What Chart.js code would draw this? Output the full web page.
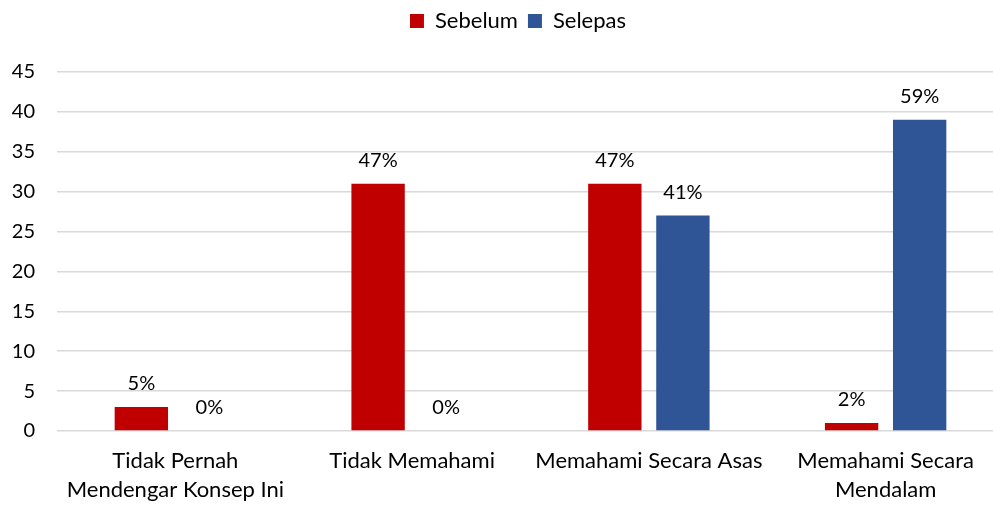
<!DOCTYPE html>
<html>
<head>
<meta charset="utf-8">
<script src="https://cdn.jsdelivr.net/npm/chart.js@4.4.1/dist/chart.umd.min.js"></script>
<style>
  html, body { margin: 0; padding: 0; background: #ffffff; overflow: hidden; }
  #wrap { position: relative; width: 1004px; height: 505px; }
</style>
</head>
<body>
<div id="wrap"><canvas id="c"></canvas></div>
<script>
const categories = [
  ["Tidak Pernah", "Mendengar Konsep Ini"],
  "Tidak Memahami",
  "Memahami Secara Asas",
  ["Memahami Secara", "Mendalam"]
];
const seriesNames = ["Sebelum", "Selepas"];
const sebelumValues = [3, 31, 31, 1];
const selepasValues = [0, 0, 27, 39];
const sebelumLabels = ["5%", "47%", "47%", "2%"];
const selepasLabels = ["0%", "0%", "41%", "59%"];
const yTicks = [0, 5, 10, 15, 20, 25, 30, 35, 40, 45];

const FONT = "Lato, 'Open Sans', sans-serif";
const TEXT = "#000000";

const dataLabelPlugin = {
  id: 'barValueLabels',
  afterDatasetsDraw(chart) {
    const ctx = chart.ctx;
    ctx.save();
    ctx.font = "20px " + FONT;
    ctx.fillStyle = TEXT;
    ctx.textAlign = 'center';
    ctx.textBaseline = 'alphabetic';
    chart.data.datasets.forEach((ds, di) => {
      const meta = chart.getDatasetMeta(di);
      meta.data.forEach((bar, i) => {
        ctx.fillText(ds.valueLabels[i], bar.x, bar.y - 17);
      });
    });
    ctx.restore();
  }
};

// Give the legend a taller block (space below it) and nudge it to the right
const legendTweak = {
  id: 'legendTweak',
  beforeLayout(chart) {
    const lg = chart.legend;
    if (lg && !lg._tweaked) {
      const fit = lg.fit;
      lg.fit = function () {
        fit.call(this);
        this.height = 72;
      };
      lg._tweaked = true;
    }
  },
  afterLayout(chart) {
    const lg = chart.legend;
    if (lg) { lg.left += 16; lg.right += 16; }
  }
};

new Chart(document.getElementById('c'), {
  type: 'bar',
  data: {
    labels: categories,
    datasets: [
      { label: seriesNames[0], data: sebelumValues, valueLabels: sebelumLabels,
        backgroundColor: '#C00000', borderWidth: 0,
        barPercentage: 0.784, categoryPercentage: 0.575 },
      { label: seriesNames[1], data: selepasValues, valueLabels: selepasLabels,
        backgroundColor: '#2F5597', borderWidth: 0,
        barPercentage: 0.784, categoryPercentage: 0.575 }
    ]
  },
  options: {
    responsive: true,
    maintainAspectRatio: false,
    animation: false,
    devicePixelRatio: 1,
    layout: { padding: { top: 0, left: 0, right: 0, bottom: 0 } },
    plugins: {
      legend: {
        position: 'top',
        align: 'center',
        labels: {
          font: { family: FONT, size: 22 },
          color: TEXT,
          boxWidth: 14,
          boxHeight: 14,
          padding: 10
        }
      },
      tooltip: { enabled: false }
    },
    scales: {
      x: {
        grid: { display: false },
        border: { display: false },
        ticks: {
          font: { family: FONT, size: 22, lineHeight: 1.3 },
          color: TEXT,
          padding: 8,
          maxRotation: 0,
          autoSkip: false
        },
        afterFit(scale) { scale.height = 74; }
      },
      y: {
        min: 0,
        max: 45,
        afterBuildTicks(scale) { scale.ticks = yTicks.map(v => ({ value: v })); },
        grid: { color: '#d9d9d9', lineWidth: 1.5, drawTicks: false },
        border: { display: false },
        ticks: {
          font: { family: FONT, size: 20 },
          color: TEXT,
          padding: 22
        },
        afterFit(scale) { scale.width = 57; }
      }
    }
  },
  plugins: [dataLabelPlugin, legendTweak]
});
</script>
</body>
</html>
